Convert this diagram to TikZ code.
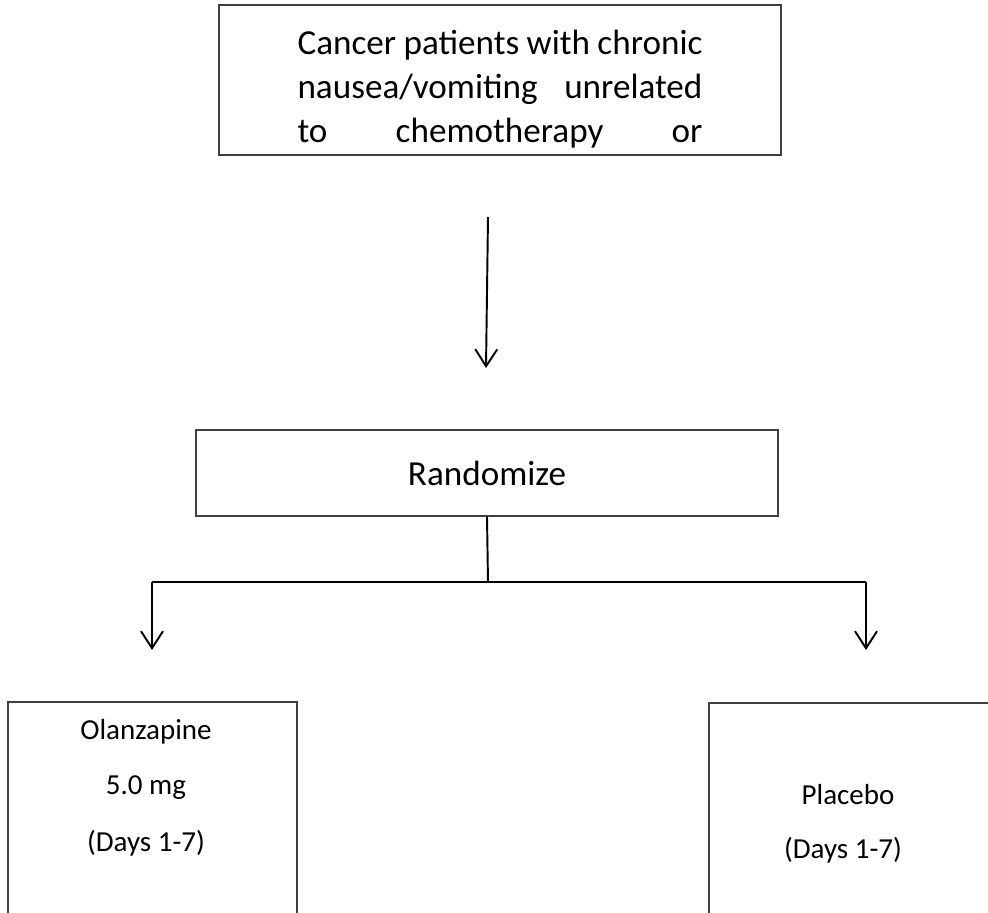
\documentclass[tikz,border=0pt]{standalone}
\usepackage{fontspec}
\setmainfont{Carlito}
\usetikzlibrary{arrows.meta,positioning}

\tikzset{
  box/.style={draw=black!75, line width=1.1pt, inner sep=0pt},
  link/.style={draw=black, line width=1.1pt},
  flow/.style={link, -{Straight Barb[length=3.4mm,width=4.4mm,line width=1.1pt]}},
  bigtext/.style={font=\fontsize{20}{25}\selectfont},
  smalltext/.style={font=\fontsize{16.5}{20}\selectfont},
}

\begin{document}
\begin{tikzpicture}[x=0.02cm,y=-0.02cm]
\clip (0,0) rectangle (988,913);
% top box
\node[box, minimum width=11.24cm, minimum height=3cm] (patients) at (500,80) {};
\node[bigtext, align=center] (patientstext) at (500,89)
  {\makebox[8.1cm][s]{Cancer patients with chronic}\\
   \makebox[8.1cm][s]{nausea/vomiting unrelated}\\
   \makebox[8.1cm][s]{to chemotherapy or}};
\coordinate (arrowtop) at (488,217);
\coordinate (arrowtip) at (486,368);
\draw[flow] (arrowtop) -- (arrowtip);
% randomize
\node[box, bigtext, minimum width=11.64cm, minimum height=1.72cm] (randomize) at (487,473) {Randomize};
\coordinate (split) at (488,582);
\coordinate (leftdrop) at (152,582);
\coordinate (rightdrop) at (866,582);
\coordinate (lefttip) at (152,650);
\coordinate (righttip) at (866,650);
\draw[link] (randomize.south) -- (split);
\draw[link] (leftdrop) -- (rightdrop);
\draw[flow] (leftdrop) -- (lefttip);
\draw[flow] (rightdrop) -- (righttip);
% arms
\node[box, minimum width=5.78cm, minimum height=6cm] (olanzbox) at (152.5,852) {};
\node[box, minimum width=7.82cm, minimum height=6cm] (placebobox) at (904.5,853) {};
\node[smalltext] (olanz) at (146,732) {Olanzapine};
\node[smalltext] (dose) at (146,788) {5.0 mg};
\node[smalltext] (olanzdays) at (146,843) {(Days 1-7)};
\node[smalltext] (placebo) at (848,795) {Placebo};
\node[smalltext] (placebodays) at (843,850) {(Days 1-7)};
\end{tikzpicture}
\end{document}
